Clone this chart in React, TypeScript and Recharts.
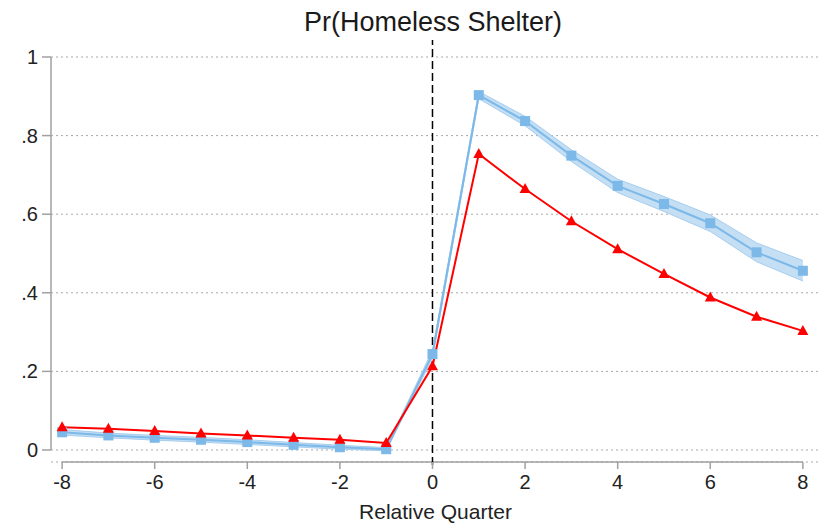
import React from "react";
import {
    ComposedChart, Line, Area, XAxis, YAxis, CartesianGrid, ReferenceLine, Label
} from "recharts";

// relative quarter
const quarters = [-8, -7, -6, -5, -4, -3, -2, -1, 0, 1, 2, 3, 4, 5, 6, 7, 8];

// blue series (squares) with its confidence band
const blueValues = [0.045, 0.037, 0.031, 0.026, 0.020, 0.013, 0.007, 0.002, 0.244, 0.903, 0.837, 0.749, 0.672, 0.626, 0.577, 0.503, 0.456];
const blueLow = [0.038, 0.031, 0.025, 0.020, 0.014, 0.008, 0.002, -0.002, 0.234, 0.894, 0.825, 0.734, 0.655, 0.607, 0.556, 0.479, 0.430];
const blueHigh = [0.052, 0.043, 0.037, 0.032, 0.026, 0.019, 0.012, 0.006, 0.254, 0.912, 0.849, 0.764, 0.689, 0.645, 0.598, 0.527, 0.482];

// red series (triangles)
const redValues = [0.058, 0.054, 0.048, 0.042, 0.037, 0.031, 0.026, 0.018, 0.213, 0.753, 0.664, 0.582, 0.511, 0.448, 0.388, 0.339, 0.303];

const xTicks = [-8, -6, -4, -2, 0, 2, 4, 6, 8];
const yTicks = [0, 0.2, 0.4, 0.6, 0.8, 1];

const data = quarters.map((q, i) => ({
    q,
    blue: blueValues[i],
    red: redValues[i],
    band: [blueLow[i], blueHigh[i]],
}));

const BLUE = "#7cb9e8";
const RED = "#ff0000";
const AXIS = "#a0a0a0";
const X_MIN = -8.24;
const X_MAX = 8.37;
const Y_MIN = -0.0306;

const fmtY = (v: number) => (v === 0 ? "0" : v === 1 ? "1" : String(v).replace(/^0/, ""));

const Square = (props: any) => {
    const { cx, cy, index } = props;
    if (cx == null || cy == null) return <g key={`s-${index}`} />;
    return <rect key={`s-${index}`} x={cx - 5} y={cy - 5} width={10} height={10} fill={BLUE} />;
};

const Triangle = (props: any) => {
    const { cx, cy, index } = props;
    if (cx == null || cy == null) return <g key={`t-${index}`} />;
    const pts = `${cx},${cy - 6} ${cx - 5.5},${cy + 4} ${cx + 5.5},${cy + 4}`;
    return <polygon key={`t-${index}`} points={pts} fill={RED} />;
};

const App = () => {
    return (
        <div
            style={{
                position: "absolute",
                left: 0,
                top: 0,
                width: 820,
                height: 526,
                background: "#fff",
                fontFamily: "'Liberation Sans', Arial, sans-serif",
            }}
        >
            <div
                style={{
                    position: "absolute",
                    left: 0,
                    width: 866,
                    top: 5,
                    textAlign: "center",
                    fontSize: 27,
                    color: "#1a1a1a",
                    lineHeight: "34px",
                }}
            >
                Pr(Homeless Shelter)
            </div>
            <ComposedChart
                width={820}
                height={526}
                data={data}
                margin={{ top: 57, right: 0, bottom: 0, left: 0 }}
            >
                <CartesianGrid
                    vertical={false}
                    stroke="#a8a8a8"
                    strokeDasharray="2 3"
                />
                <XAxis
                    dataKey="q"
                    type="number"
                    domain={[X_MIN, X_MAX]}
                    ticks={xTicks}
                    allowDataOverflow
                    axisLine={false}
                    tickLine={{ stroke: AXIS, strokeWidth: 1.5 }}
                    tickSize={7}
                    tickMargin={6}
                    height={64}
                    tick={{ fill: "#222", fontSize: 20 }}
                >
                    <Label
                        value="Relative Quarter"
                        position="insideBottom"
                        offset={7}
                        style={{ fill: "#222", fontSize: 21 }}
                    />
                </XAxis>
                <YAxis
                    type="number"
                    domain={[Y_MIN, 1]}
                    ticks={yTicks}
                    allowDataOverflow
                    width={51}
                    axisLine={false}
                    tickLine={{ stroke: AXIS, strokeWidth: 1.5 }}
                    tickSize={9}
                    tickMargin={4}
                    tickFormatter={fmtY}
                    tick={{ fill: "#222", fontSize: 20 }}
                />
                <ReferenceLine
                    segment={[{ x: X_MIN, y: 0 }, { x: X_MIN, y: 1 }]}
                    stroke={AXIS}
                    strokeWidth={1.5}
                    ifOverflow="visible"
                />
                <ReferenceLine
                    segment={[{ x: -8, y: Y_MIN }, { x: 8, y: Y_MIN }]}
                    stroke={AXIS}
                    strokeWidth={1.5}
                    ifOverflow="visible"
                />
                <ReferenceLine
                    segment={[{ x: 0, y: -0.038 }, { x: 0, y: 1.043 }]}
                    stroke="#000"
                    strokeWidth={1.5}
                    strokeDasharray="8 4"
                    ifOverflow="visible"
                />
                <Area
                    dataKey="band"
                    type="linear"
                    fill="#c4def4"
                    fillOpacity={1}
                    stroke="#a6cdee"
                    strokeWidth={1}
                    isAnimationActive={false}
                />
                <Line
                    dataKey="blue"
                    type="linear"
                    stroke={BLUE}
                    strokeWidth={2}
                    dot={Square}
                    activeDot={false}
                    isAnimationActive={false}
                />
                <Line
                    dataKey="red"
                    type="linear"
                    stroke={RED}
                    strokeWidth={2}
                    dot={Triangle}
                    activeDot={false}
                    isAnimationActive={false}
                />
            </ComposedChart>
        </div>
    );
};

export default App;
